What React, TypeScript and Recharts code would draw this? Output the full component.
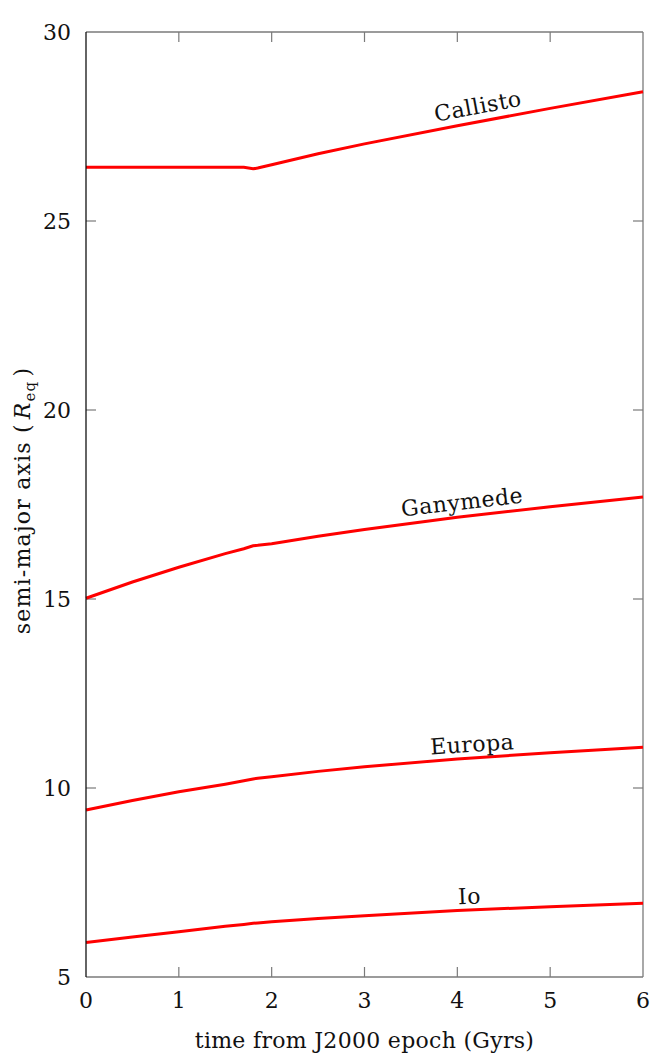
import React from "react";
import { LineChart, Line, XAxis, YAxis, ReferenceDot, ReferenceLine } from "recharts";

const times = [0, 0.5, 1, 1.5, 1.7, 1.8, 1.85, 2, 2.5, 3, 4, 5, 6];
const callisto = [26.42, 26.42, 26.42, 26.42, 26.42, 26.38, 26.4, 26.49, 26.78, 27.04, 27.52, 27.98, 28.42];
const ganymede = [15.02, 15.45, 15.84, 16.2, 16.33, 16.41, 16.42, 16.46, 16.66, 16.84, 17.16, 17.44, 17.7];
const europa = [9.42, 9.67, 9.9, 10.1, 10.19, 10.24, 10.26, 10.3, 10.44, 10.56, 10.77, 10.93, 11.08];
const io = [5.91, 6.06, 6.2, 6.34, 6.39, 6.42, 6.43, 6.46, 6.55, 6.62, 6.76, 6.86, 6.95];

const xTicks = [0, 1, 2, 3, 4, 5, 6];
const yTicks = [5, 10, 15, 20, 25, 30];
const xInner = [1, 2, 3, 4, 5];
const yInner = [10, 15, 20, 25];

const moonLabels = [
  { name: "Callisto", t: 4.22, v: 28.04, angle: -10.6 },
  { name: "Ganymede", t: 4.05, v: 17.57, angle: -6.5 },
  { name: "Europa", t: 4.16, v: 11.16, angle: -3.8 },
  { name: "Io", t: 4.13, v: 7.14, angle: -2.3 },
];

const data = times.map((t, i) => ({
  t,
  callisto: callisto[i],
  ganymede: ganymede[i],
  europa: europa[i],
  io: io[i],
}));

const FONT = "DejaVu Serif";
const FS = 22;
const GREY = "#7a7a7a";
const TICKLEN = 10;
const MARGIN = 15;

const BottomTick = (props: any) => {
  const { x, y, payload } = props;
  const axisY = y - MARGIN;
  return (
    <text x={x} y={axisY + 31} textAnchor="middle" fontFamily={FONT} fontSize={FS} fill="#111">
      {payload.value}
    </text>
  );
};

const LeftTick = (props: any) => {
  const { x, y, payload } = props;
  const axisX = x + MARGIN;
  return (
    <text x={axisX - 15} y={y} dy="0.36em" textAnchor="end" fontFamily={FONT} fontSize={FS} fill="#111">
      {payload.value}
    </text>
  );
};

const HTickShape = (p: any) => {
  const { x1, x2, y1, y2 } = p;
  const y = y1;
  return (
    <g>
      <line x1={Math.min(x1, x2)} x2={Math.min(x1, x2) + TICKLEN} y1={y} y2={y2} stroke={GREY} strokeWidth={1.2} />
      <line x1={Math.max(x1, x2) - TICKLEN} x2={Math.max(x1, x2)} y1={y} y2={y2} stroke={GREY} strokeWidth={1.2} />
    </g>
  );
};

const VTickShape = (p: any) => {
  const { x1, x2, y1, y2 } = p;
  const top = Math.min(y1, y2);
  const bot = Math.max(y1, y2);
  return (
    <g>
      <line x1={x1} x2={x2} y1={top} y2={top + TICKLEN} stroke={GREY} strokeWidth={1.2} />
      <line x1={x1} x2={x2} y1={bot - TICKLEN} y2={bot} stroke={GREY} strokeWidth={1.2} />
    </g>
  );
};

const YTitle = (props: any) => {
  const vb = props.viewBox || {};
  const cx = (vb.x || 0) + 22;
  const cy = (vb.y || 0) + (vb.height || 0) / 2 - 4;
  return (
    <text
      x={cx}
      y={cy}
      transform={`rotate(-90 ${cx} ${cy})`}
      textAnchor="middle"
      dy="0.35em"
      fontFamily={FONT}
      fontSize={FS}
      letterSpacing={1.2}
      fill="#111"
    >
      <tspan>semi-major axis (</tspan>
      <tspan fontStyle="italic" dx="4">R</tspan>
      <tspan fontSize={15} dy="5">eq</tspan>
      <tspan dy="-5" dx="4">)</tspan>
    </text>
  );
};

const XTitle = (props: any) => {
  const vb = props.viewBox || {};
  const cx = (vb.x || 0) + (vb.width || 0) / 2;
  return (
    <text x={cx} y={1048} textAnchor="middle" fontFamily={FONT} fontSize={FS} letterSpacing={0.3} fill="#111">
      time from J2000 epoch (Gyrs)
    </text>
  );
};

const makeLabelShape = (name: string, angle: number) => (p: any) => {
  const { cx, cy } = p;
  return (
    <text
      x={cx}
      y={cy}
      dy="0.35em"
      textAnchor="middle"
      transform={`rotate(${angle} ${cx} ${cy})`}
      fontFamily={FONT}
      fontSize={FS}
      letterSpacing={0.5}
      fill="#111"
    >
      {name}
    </text>
  );
};

export default function App() {
  return (
    <div style={{ margin: -8, width: 664, height: 1063, background: "#fff" }}>
      <LineChart width={664} height={1063} data={data} margin={{ top: 32, right: 21, left: 0, bottom: 0 }}>
        <XAxis
          dataKey="t"
          type="number"
          domain={[0, 6]}
          ticks={xTicks}
          height={86}
          tickSize={0}
          tickMargin={MARGIN}
          tickLine={false}
          axisLine={{ stroke: GREY, strokeWidth: 1.3 }}
          tick={<BottomTick />}
          interval={0}
          label={<XTitle />}
        />
        <YAxis
          type="number"
          domain={[5, 30]}
          ticks={yTicks}
          width={86}
          tickSize={0}
          tickMargin={MARGIN}
          tickLine={false}
          axisLine={{ stroke: "#111", strokeWidth: 1.3 }}
          tick={<LeftTick />}
          interval={0}
          label={<YTitle />}
        />
        <ReferenceLine y={30} stroke={GREY} strokeWidth={1.3} />
        <ReferenceLine x={6} stroke={GREY} strokeWidth={1.3} />
        {yInner.map((v) => (
          <ReferenceLine key={`yt${v}`} y={v} shape={HTickShape} />
        ))}
        {xInner.map((v) => (
          <ReferenceLine key={`xt${v}`} x={v} shape={VTickShape} />
        ))}
        <Line dataKey="callisto" type="linear" stroke="#ff0000" strokeWidth={3} dot={false} isAnimationActive={false} />
        <Line dataKey="ganymede" type="linear" stroke="#ff0000" strokeWidth={3} dot={false} isAnimationActive={false} />
        <Line dataKey="europa" type="linear" stroke="#ff0000" strokeWidth={3} dot={false} isAnimationActive={false} />
        <Line dataKey="io" type="linear" stroke="#ff0000" strokeWidth={3} dot={false} isAnimationActive={false} />
        {moonLabels.map((m) => (
          <ReferenceDot
            key={m.name}
            x={m.t}
            y={m.v}
            r={0}
            ifOverflow="visible"
            shape={makeLabelShape(m.name, m.angle)}
          />
        ))}
      </LineChart>
    </div>
  );
}
